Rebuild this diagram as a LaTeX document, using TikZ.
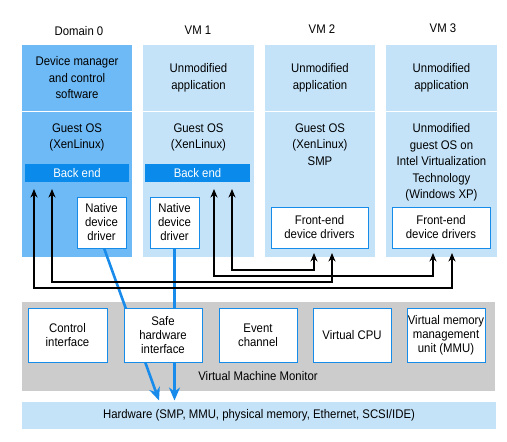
\documentclass[tikz,border=0pt]{standalone}
\usepackage{fontspec}
\setmainfont{Liberation Sans}[FakeStretch=0.91]
\usetikzlibrary{arrows.meta,calc}
\definecolor{domc}{RGB}{110,186,246}
\definecolor{vmc}{RGB}{196,227,249}
\definecolor{bec}{RGB}{10,138,234}
\definecolor{bordc}{RGB}{22,140,232}
\definecolor{arrc}{RGB}{25,140,235}
\definecolor{vmmc}{RGB}{204,204,204}
\begin{document}
\begin{tikzpicture}[x=1pt,y=-1pt,
  every node/.style={inner sep=0pt, outer sep=0pt},
  txt/.style={font=\fontsize{12.5}{16.5}\selectfont, align=center},
  stxt/.style={font=\fontsize{12.5}{14}\selectfont, align=center},
  hdr/.style={font=\fontsize{12.5}{14}\selectfont},
  dompart/.style={fill=domc, minimum width=110pt},
  vmpart/.style={fill=vmc, minimum width=110.5pt},
  backbar/.style={fill=bec, minimum height=18pt, text=white, font=\fontsize{12.5}{14}\selectfont},
  wbox/.style={fill=white, draw=bordc, line width=1pt, stxt},
  blk/.style={line width=1.6pt, {Stealth[length=8.5pt,width=7pt]}-{Stealth[length=8.5pt,width=7pt]}},
  blu/.style={line width=2.6pt, draw=arrc, -{Stealth[length=13pt,width=11pt,inset=4pt]}}
]
\useasboundingbox (0,0) rectangle (507,442);

% headers
\node[hdr] (h0) at (79,31) {Domain 0};
\node[hdr] (h1) at (198,30) {VM 1};
\node[hdr] (h2) at (322,29) {VM 2};
\node[hdr] (h3) at (443,28) {VM 3};

% columns: top parts (45-110.5), bottom parts (111.5-257)
\node[dompart, minimum height=65.5pt, txt] (t0) at (77,77.75) {Device manager\\and control\\software};
\node[vmpart, minimum height=65.5pt, txt] (t1) at (198.5,77.75) {Unmodified\\application};
\node[vmpart, minimum height=65.5pt, txt] (t2) at (320,77.75) {Unmodified\\application};
\node[vmpart, minimum height=65.5pt, txt] (t3) at (441.5,77.75) {Unmodified\\application};

\node[dompart, minimum height=145.5pt] (b0) at (77,184.25) {};
\node[vmpart, minimum height=145.5pt] (b1) at (198.5,184.25) {};
\node[vmpart, minimum height=145.5pt] (b2) at (320,184.25) {};
\node[vmpart, minimum height=145.5pt] (b3) at (441.5,184.25) {};

\node[txt, anchor=north] (g0) at (77,123.5) {Guest OS\\(XenLinux)};
\node[txt, anchor=north] (g1) at (198.5,123.5) {Guest OS\\(XenLinux)};
\node[txt, anchor=north] (g2) at (320,123.5) {Guest OS\\(XenLinux)\\SMP};
\node[txt, anchor=north] (g3) at (441.5,123.5) {Unmodified\\guest OS on\\Intel Virtualization\\Technology\\(Windows XP)};

% back end bars
\node[backbar, minimum width=104pt] (be0) at (77,173) {Back end};
\node[backbar, minimum width=105pt] (be1) at (197.5,173) {Back end};

% VMM and hardware
\node[fill=vmmc, minimum width=473pt, minimum height=89pt] (vmm) at (258.5,346.5) {};
\node[hdr] (vmml) at (258,376) {Virtual Machine Monitor};
\node[fill=vmc, minimum width=474pt, minimum height=27pt, hdr] (hw) at (259,415.5) {Hardware (SMP, MMU, physical memory, Ethernet, SCSI/IDE)};

% blue arrows (behind boxes)
\coordinate (s0) at (104,248);
\coordinate (e0) at (159,400.5);
\coordinate (s1) at (174.5,248);
\draw[blu] (s0) -- (e0);
\draw[blu] (s1) -- (s1 |- e0);

% black connectors
\coordinate (ya) at (0,270);
\coordinate (yb) at (0,276);
\coordinate (yc) at (0,282);
\coordinate (yd) at (0,288);
\coordinate (a0) at (34,189);
\coordinate (a1) at (52,189);
\coordinate (a2) at (214,189);
\coordinate (a3) at (232,189);
\coordinate (f0) at (314,253);
\coordinate (f1) at (332,253);
\coordinate (f2) at (433,253);
\coordinate (f3) at (452,253);
\draw[blk] (a3) -- (a3 |- ya) -- (f0 |- ya) -- (f0);
\draw[blk] (a2) -- (a2 |- yb) -- (f2 |- yb) -- (f2);
\draw[blk] (a1) -- (a1 |- yc) -- (f1 |- yc) -- (f1);
\draw[blk] (a0) -- (a0 |- yd) -- (f3 |- yd) -- (f3);

% white boxes in columns
\node[wbox, minimum width=49pt, minimum height=51pt] (nd0) at (101.5,222.5) {Native\\device\\driver};
\node[wbox, minimum width=49pt, minimum height=51pt] (nd1) at (174.5,222.5) {Native\\device\\driver};
\node[wbox, minimum width=97pt, minimum height=41pt] (fe2) at (319.5,227.5) {Front-end\\device drivers};
\node[wbox, minimum width=98pt, minimum height=41pt] (fe3) at (441,227.5) {Front-end\\device drivers};

% VMM boxes
\node[wbox, minimum width=79pt, minimum height=54pt] (ci) at (67.5,335) {Control\\interface};
\node[wbox, minimum width=78pt, minimum height=54pt] (sh) at (163,335) {Safe\\hardware\\interface};
\node[wbox, minimum width=78pt, minimum height=54pt] (ec) at (258,335) {Event\\channel};
\node[wbox, minimum width=78pt, minimum height=54pt] (vc) at (352,335) {Virtual CPU};
\node[wbox, minimum width=78pt, minimum height=54pt] (mmu) at (446,335) {Virtual memory\\management\\unit (MMU)};
\end{tikzpicture}
\end{document}
